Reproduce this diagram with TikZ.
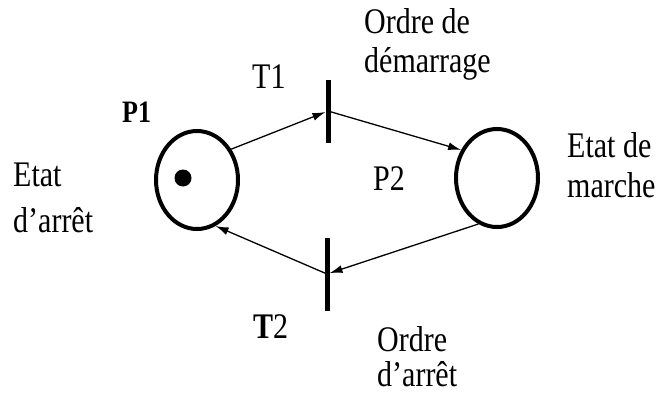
\documentclass[tikz,border=0pt]{standalone}
\usepackage{fontspec}
\usepackage{graphicx}
\setmainfont{Liberation Serif}
\usetikzlibrary{arrows.meta,shapes.geometric}
\newcommand\vstretch[1]{\scalebox{1}[1.2]{#1}}
\begin{document}
\begin{tikzpicture}[x=1pt,y=-1pt,
  place/.style={draw,ellipse,line width=4pt,minimum width=82pt,minimum height=98pt,inner sep=0pt},
  bar/.style={fill=black,rectangle,minimum width=5pt,inner sep=0pt,outer sep=0pt},
  arc/.style={line width=1.3pt,-{Latex[length=13pt,width=8pt]}},
  lbl/.style={anchor=base west,inner sep=0pt,font=\fontsize{30}{36}\selectfont}]
\useasboundingbox (0,0) rectangle (664,394);
\node[place] (P1) at (197,180) {};
\node[fill=black,circle,minimum size=17pt,inner sep=0pt] (tok) at (183,178) {};
\node[place] (P2) at (497,178) {};
\node[bar,minimum height=63pt] (T1) at (328,111) {};
\node[bar,minimum height=73pt] (T2) at (327,274) {};
\draw[arc] (P1.42) -- (T1);
\draw[arc] (T1.center) -- (P2.142);
\draw[arc] (P2.248) -- (T2);
\draw[arc] (T2.center) -- (P1.292);
\node[lbl,font=\fontsize{26}{30}\selectfont\bfseries] (p1l) at (122,122) {\vstretch{P1}};
\node[lbl] (e1) at (13,186) {\vstretch{Etat}};
\node[lbl] (e2) at (13,232) {\vstretch{d'arrêt}};
\node[lbl] (t1l) at (252,88) {\vstretch{T1}};
\node[lbl] (o1) at (364,33) {\vstretch{Ordre de}};
\node[lbl] (o2) at (364,72) {\vstretch{démarrage}};
\node[lbl] (p2l) at (373,190) {\vstretch{P2}};
\node[lbl] (m1) at (567,157) {\vstretch{Etat de}};
\node[lbl] (m2) at (567,197) {\vstretch{marche}};
\node[lbl] (t2l) at (253,338) {\vstretch{\textbf{T}2}};
\node[lbl] (a1) at (377,351) {\vstretch{Ordre}};
\node[lbl] (a2) at (377,386) {\vstretch{d'arrêt}};
\end{tikzpicture}
\end{document}
